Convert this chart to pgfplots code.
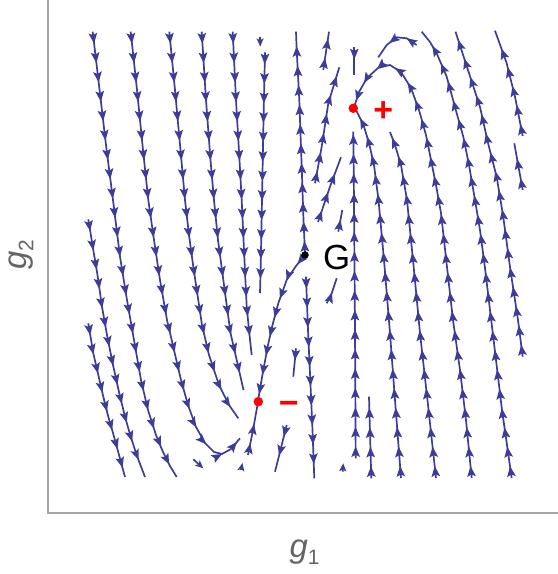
\documentclass[border=0pt]{standalone}
\usepackage{fontspec}
\setmainfont{Liberation Sans}
\usepackage{pgfplots}
\pgfplotsset{compat=1.18}
\usetikzlibrary{decorations.markings,arrows.meta}

\definecolor{streamblue}{rgb}{0.24,0.24,0.6}
\definecolor{axisgray}{RGB}{165,165,165}
\definecolor{labelgray}{RGB}{100,100,100}

\pgfplotsset{
  stream/.style={streamblue, line width=1.7bp, no marks, line join=round,
    postaction={decorate},
    decoration={markings,
      mark=between positions 12bp and 1 step 19.5bp with
        {\arrow{Stealth[length=10.5bp,width=8.5bp,inset=2bp]}}}},
  stub/.style={streamblue, line width=1.7bp, no marks,
    -{Stealth[length=8bp,width=7bp,inset=1.8bp]}},
}

\begin{document}
\begin{tikzpicture}
\begin{axis}[
  scale only axis, width=510bp, height=513bp,
  xmin=48, xmax=558, ymin=-513, ymax=0,
  hide axis, clip=false,
]
% frame (left and bottom only)
\draw[axisgray, line width=1.2bp] (rel axis cs:0,1) -- (rel axis cs:0,0) -- (rel axis cs:1,0);

% left field, flowing down
\addplot[stream] coordinates {(92.7,-31.7) (99,-85) (106,-145) (113,-200) (120,-256.7) (127,-300) (134,-340) (141,-380) (148,-410) (156,-435) (163,-452) (170,-466) (176.7,-477)};
\addplot[stream] coordinates {(88.3,-219.3) (93.3,-250) (97.5,-275) (102,-306.7) (107,-335) (113,-365) (119,-392) (125,-416.7) (130.5,-436) (137,-456) (145,-477)};
\addplot[stream] coordinates {(88.3,-323.3) (93.3,-353.3) (98.3,-375) (103.3,-396.7) (108.3,-416.7) (113.3,-434) (118.5,-453) (125,-477)};
\addplot[stream] coordinates {(130.7,-31.7) (137,-90) (143,-150) (148.3,-200) (154,-240) (160,-280) (167,-320) (174,-350) (181,-380) (188,-405) (196,-427) (205,-443) (214,-452) (222,-454) (231,-449) (240,-438.3)};
\addplot[stream] coordinates {(169.3,-31.7) (175,-90) (180.5,-150) (185,-200) (189,-235) (193.3,-266.7) (197.5,-295) (202,-325) (209,-355) (219,-385) (229,-405) (238.3,-418.3)};
\addplot[stream] coordinates {(201.7,-31.7) (206,-100) (210.5,-160) (214,-200) (218,-240) (222,-270) (226,-300) (230.5,-333) (236.7,-360) (243.5,-390)};
\addplot[stream] coordinates {(232.7,-31.7) (236,-100) (239.5,-160) (241.7,-200) (244,-250) (246.7,-306.7) (249.5,-335) (251.7,-355)};
\addplot[stub] coordinates {(260,-37) (260.3,-46.5)};
\addplot[stream] coordinates {(265,-52.3) (263.5,-120) (262,-200) (260.7,-266.7) (260,-293)};

% through the saddle G
\addplot[stream] coordinates {(305,-255) (296,-266) (286.7,-280) (278.3,-303.3) (272.5,-325) (268,-345) (263.3,-370) (258.3,-399)};
\addplot[stream] coordinates {(305,-253) (303.5,-220) (301.7,-166.7) (299.3,-100) (296.7,-50) (296,-31.7)};
\addplot[stream] coordinates {(306,-276.7) (308,-330) (310,-373.3) (312.5,-430) (314.3,-478.3)};

% right field, flowing up
\addplot[stream] coordinates {(355.7,-458.3) (355,-330) (354,-200) (353.3,-131.7)};
\addplot[stream] coordinates {(371.3,-478.3) (369,-396.7)};
\addplot[stream] coordinates {(401,-478) (395,-400) (390,-333) (384,-260) (378.5,-200) (374,-165) (369,-143) (363.5,-125) (356,-110)};
\addplot[stream] coordinates {(436,-478) (428,-405) (420,-333) (413.5,-265) (407,-200) (401,-165) (395,-145) (390,-132)};
\addplot[stream] coordinates {(471.7,-478) (466,-420) (460,-370) (453,-320) (447,-267) (441,-213) (436,-185) (431,-160) (426,-135) (419,-110) (411,-88) (401,-72) (390,-65) (378,-68) (367,-78) (359,-92) (354.5,-106)};
\addplot[stream] coordinates {(511.7,-478) (507,-445) (502,-410) (496,-360) (490,-310) (485,-268) (480,-230) (475,-200) (469,-165) (463.3,-136.7) (456.7,-113.3) (446.7,-76.7) (436.7,-53.3) (430,-42) (421.7,-31.7)};
\addplot[stream] coordinates {(522.7,-356.7) (518,-320) (510,-267) (503,-215) (496.7,-177) (488,-143) (480,-107) (467,-67) (455.5,-31.7)};
\addplot[stream] coordinates {(522.7,-136) (515,-96.7) (506.7,-63.3) (495,-30.7)};
\addplot[stream] coordinates {(522.7,-190) (514.3,-143.3)};
\addplot[stream] coordinates {(416.7,-45) (406.7,-38.3) (396.7,-37.3) (386.7,-45) (378.3,-57.3)};

% short pieces near the middle
\addplot[stream] coordinates {(323.3,-70) (329,-31.7)};
\addplot[stream] coordinates {(315,-183.3) (321.7,-146.7) (328.3,-103.3) (339.3,-67.3)};
\addplot[stream] coordinates {(318,-222) (330,-186.7) (341,-157.3)};
\addplot[stream] coordinates {(338.3,-231.7) (342.3,-210)};
\addplot[stream] coordinates {(354.3,-47.3) (354.3,-75)};
\addplot[stream] coordinates {(326.7,-303.3) (331.7,-293.3) (336.7,-278.3)};
\addplot[stream] coordinates {(296,-348.3) (293.3,-376.7)};
\addplot[stream] coordinates {(286.7,-425) (281,-448) (275,-471.7)};
\addplot[stub] coordinates {(342.7,-471.7) (343.3,-463.3)};
\addplot[stub] coordinates {(193.3,-459.3) (203.3,-468.3)};
\addplot[stub] coordinates {(241,-470) (242.5,-463)};
\addplot[stream] coordinates {(248,-455) (253,-430) (257.5,-405)};

% fixed points
\addplot[only marks, mark=*, mark size=4.5, red] coordinates {(258.3,-401.7) (353.3,-108.3)};
\addplot[only marks, mark=*, mark size=3.5, black] coordinates {(305,-255)};

\node[text=red, inner sep=0, font=\fontsize{34}{34}\selectfont\bfseries] at (axis cs:383.3,-111.7) {+};
\node[text=red, inner sep=0, anchor=base, font=\fontsize{34}{34}\selectfont\bfseries] at (axis cs:288.7,-415) {−};
\node[inner sep=0, font=\fontsize{35}{35}\selectfont] at (axis cs:336.7,-257.5) {G};

% axis labels
\node[text=labelgray, inner sep=0, anchor=base] at (axis cs:304.5,-557)
  {\fontsize{33}{33}\selectfont\textit{g}\raisebox{-7bp}{\fontsize{21}{21}\selectfont 1}};
\node[text=labelgray, inner sep=0, anchor=base, rotate=90] at (axis cs:26.5,-255)
  {\fontsize{33}{33}\selectfont\textit{g}\raisebox{-7bp}{\fontsize{21}{21}\selectfont 2}};

\coordinate (bl) at (axis cs:0,-574);
\coordinate (tr) at (axis cs:558,0);
\end{axis}
\pgfresetboundingbox
\useasboundingbox (bl) rectangle (tr);
\end{tikzpicture}
\end{document}
